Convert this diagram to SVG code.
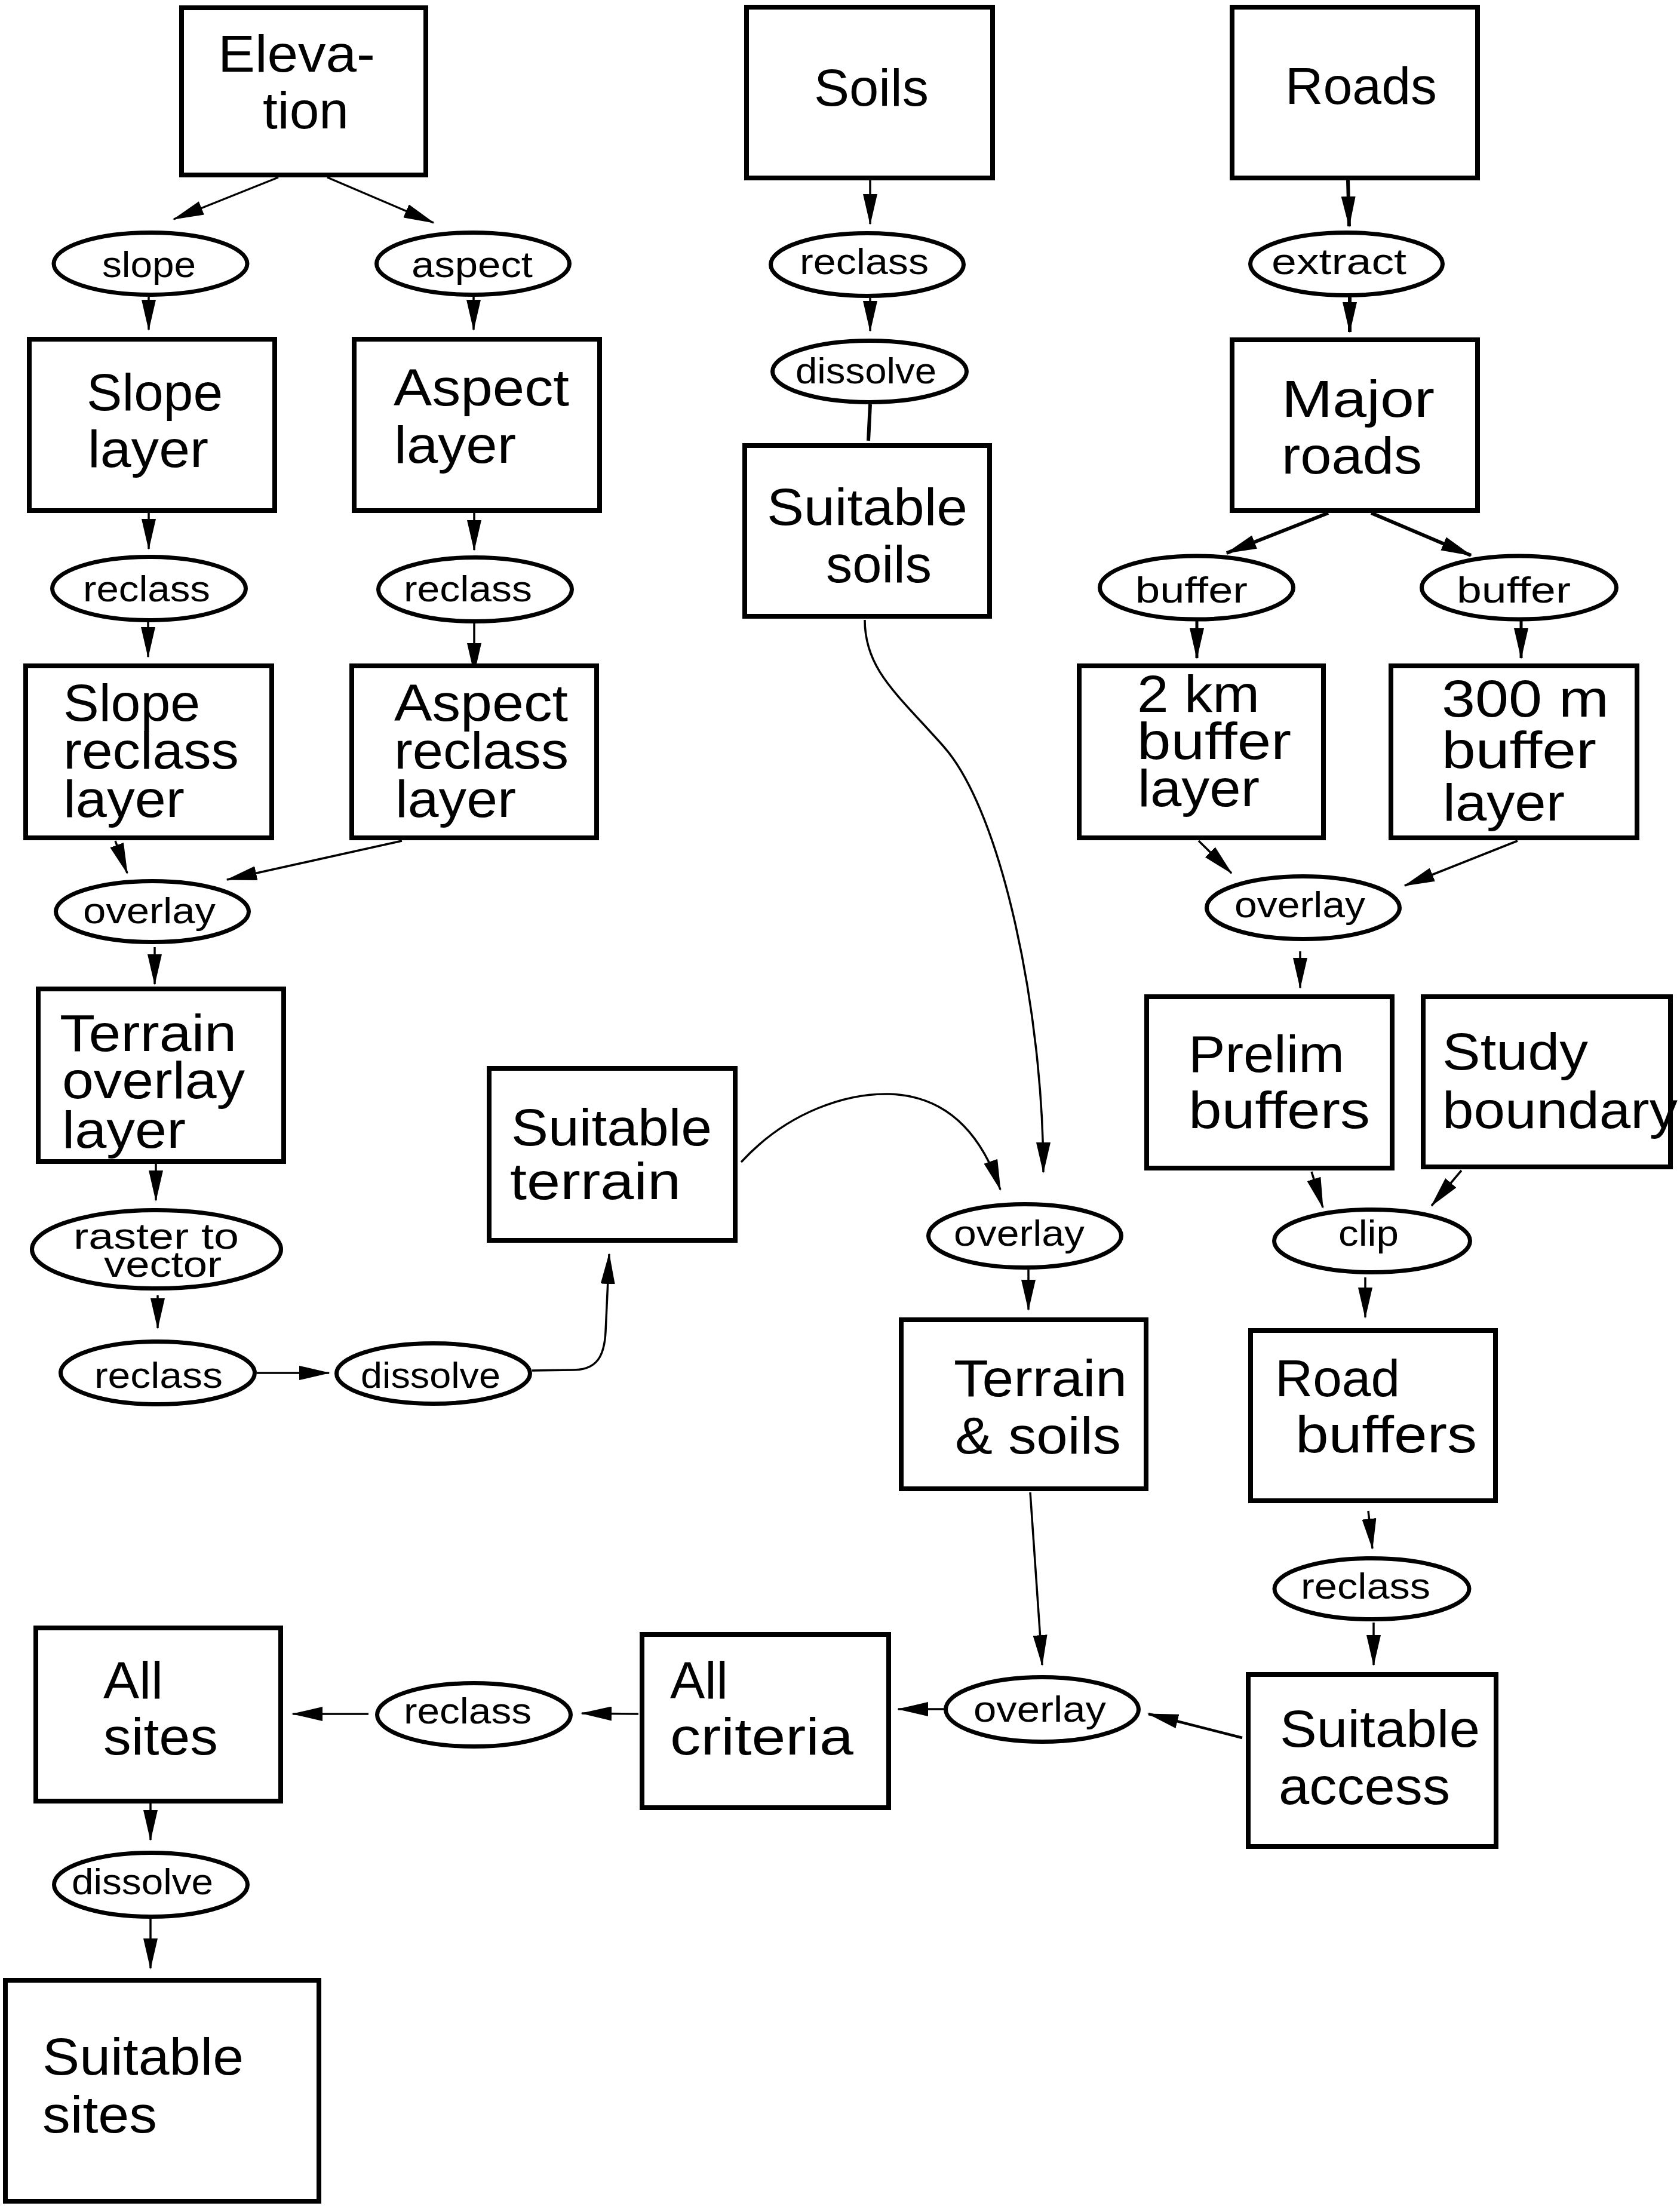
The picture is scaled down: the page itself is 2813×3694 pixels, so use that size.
<svg xmlns="http://www.w3.org/2000/svg" width="2813" height="3694" viewBox="0 0 2813 3694">
<style>
.box{fill:#fff;stroke:#000;stroke-width:8}
.op{fill:#fff;stroke:#000;stroke-width:7}
.t{font-family:"Liberation Sans",Arial,sans-serif;font-size:88px;fill:#000}
.s{font-family:"Liberation Sans",Arial,sans-serif;font-size:62px;fill:#000}
.c{stroke:#000;stroke-width:3.5;fill:none;marker-end:url(#ah)}
.k{stroke-width:6}
.n{stroke:#000;stroke-width:6;fill:none}
</style>
<defs>
<marker id="ah" markerUnits="userSpaceOnUse" markerWidth="52" markerHeight="24" refX="50" refY="12" orient="auto">
<path d="M0,0 L52,12 L0,24 z" fill="#000"/>
</marker>
</defs>
<rect width="2813" height="3694" fill="#fff"/>
<g id="connectors">
<line class="c" x1="466" y1="297" x2="291" y2="367"/>
<line class="c" x1="548" y1="297" x2="726" y2="373"/>
<line class="c" x1="249" y1="497" x2="249" y2="552"/>
<line class="c" x1="793" y1="497" x2="793" y2="552"/>
<line class="c" x1="249" y1="859" x2="249" y2="919"/>
<line class="c" x1="794" y1="859" x2="794" y2="921"/>
<line class="c" x1="248" y1="1042" x2="248" y2="1100"/>
<line class="c" x1="794" y1="1044" x2="794" y2="1127"/>
<line class="c" x1="193" y1="1408" x2="213" y2="1462"/>
<line class="c" x1="673" y1="1408" x2="380" y2="1473"/>
<line class="c" x1="259" y1="1586" x2="259" y2="1648"/>
<line class="c" x1="261" y1="1949" x2="261" y2="2010"/>
<line class="c" x1="264" y1="2169" x2="264" y2="2224"/>
<line class="c" x1="430" y1="2299" x2="551" y2="2299"/>
<path class="c" d="M891,2295 L960,2294 C1000,2294 1012,2270 1014,2230 L1020,2100"/>
<line class="c" x1="1457" y1="302" x2="1457" y2="375"/>
<line class="c" x1="1457" y1="499" x2="1457" y2="554"/>
<line class="n" x1="1457" y1="677" x2="1454" y2="738"/>
<path class="c" d="M1448,1038 C1448,1120 1500,1160 1580,1250 C1679,1362 1747,1700 1747,1963"/>
<path class="c" d="M1241,1946 C1320,1860 1420,1830 1490,1832 C1580,1835 1640,1890 1675,1992"/>
<line class="c k" x1="2257" y1="302" x2="2259" y2="379"/>
<line class="c k" x1="2260" y1="498" x2="2260" y2="556"/>
<line class="c k" x1="2224" y1="859" x2="2054" y2="926"/>
<line class="c k" x1="2296" y1="859" x2="2463" y2="930"/>
<line class="c" x1="2004" y1="1040" x2="2004" y2="1102" style="stroke-width:5"/>
<line class="c" x1="2547" y1="1040" x2="2547" y2="1102" style="stroke-width:5"/>
<line class="c" x1="2007" y1="1408" x2="2062" y2="1462"/>
<line class="c" x1="2541" y1="1408" x2="2352" y2="1483"/>
<line class="c" x1="2177" y1="1593" x2="2177" y2="1654"/>
<line class="c" x1="2196" y1="1962" x2="2215" y2="2022"/>
<line class="c" x1="2447" y1="1960" x2="2397" y2="2019"/>
<line class="c" x1="2286" y1="2139" x2="2286" y2="2206"/>
<line class="c" x1="1722" y1="2126" x2="1722" y2="2193"/>
<line class="c" x1="1725" y1="2499" x2="1745" y2="2788"/>
<line class="c" x1="2291" y1="2530" x2="2298" y2="2593"/>
<line class="c" x1="2300" y1="2717" x2="2300" y2="2788"/>
<line class="c" x1="2080" y1="2910" x2="1923" y2="2870" style="stroke-width:4.5"/>
<line class="c" x1="1580" y1="2862" x2="1504" y2="2862"/>
<line class="c" x1="1069" y1="2870" x2="974" y2="2869"/>
<line class="c" x1="617" y1="2870" x2="490" y2="2870"/>
<line class="c" x1="252" y1="3020" x2="252" y2="3081"/>
<line class="c" x1="252" y1="3213" x2="252" y2="3296"/>
</g>
<g id="elevation"><rect class="box" x="304" y="13" width="409" height="280"/><text class="t" x="365" y="120" textLength="263" lengthAdjust="spacingAndGlyphs">Eleva-</text><text class="t" x="440" y="215" textLength="144" lengthAdjust="spacingAndGlyphs">tion</text></g>
<g id="soils"><rect class="box" x="1250" y="12" width="412" height="286"/><text class="t" x="1363" y="177" textLength="192" lengthAdjust="spacingAndGlyphs">Soils</text></g>
<g id="roads"><rect class="box" x="2063" y="12" width="411" height="286"/><text class="t" x="2152" y="174" textLength="254" lengthAdjust="spacingAndGlyphs">Roads</text></g>
<g id="op-slope"><ellipse class="op" cx="252" cy="441.5" rx="162" ry="52"/><text class="s" x="171" y="464" textLength="157" lengthAdjust="spacingAndGlyphs">slope</text></g>
<g id="op-aspect"><ellipse class="op" cx="792" cy="441.5" rx="161.5" ry="52"/><text class="s" x="689" y="464" textLength="203" lengthAdjust="spacingAndGlyphs">aspect</text></g>
<g id="op-reclass-soils"><ellipse class="op" cx="1452" cy="443" rx="161.5" ry="52.5"/><text class="s" x="1339" y="459" textLength="216" lengthAdjust="spacingAndGlyphs">reclass</text></g>
<g id="op-dissolve-soils"><ellipse class="op" cx="1456" cy="622" rx="162.5" ry="51.5"/><text class="s" x="1332" y="642" textLength="236" lengthAdjust="spacingAndGlyphs">dissolve</text></g>
<g id="op-extract"><ellipse class="op" cx="2254.5" cy="442" rx="161" ry="52.5"/><text class="s" x="2129" y="459" textLength="226" lengthAdjust="spacingAndGlyphs">extract</text></g>
<g id="slope-layer"><rect class="box" x="49" y="568" width="411" height="287"/><text class="t" x="145" y="687" textLength="228" lengthAdjust="spacingAndGlyphs">Slope</text><text class="t" x="147" y="782" textLength="202" lengthAdjust="spacingAndGlyphs">layer</text></g>
<g id="aspect-layer"><rect class="box" x="593" y="568" width="411" height="287"/><text class="t" x="659" y="679" textLength="294" lengthAdjust="spacingAndGlyphs">Aspect</text><text class="t" x="660" y="775" textLength="204" lengthAdjust="spacingAndGlyphs">layer</text></g>
<g id="suitable-soils"><rect class="box" x="1247" y="746" width="410" height="286"/><text class="t" x="1284" y="879" textLength="336" lengthAdjust="spacingAndGlyphs">Suitable</text><text class="t" x="1383" y="975" textLength="177" lengthAdjust="spacingAndGlyphs">soils</text></g>
<g id="major-roads"><rect class="box" x="2063" y="569" width="411" height="286"/><text class="t" x="2146" y="698" textLength="256" lengthAdjust="spacingAndGlyphs">Major</text><text class="t" x="2146" y="793" textLength="235" lengthAdjust="spacingAndGlyphs">roads</text></g>
<g id="op-reclass-slope"><ellipse class="op" cx="249.5" cy="985.5" rx="162" ry="53"/><text class="s" x="139" y="1007" textLength="213" lengthAdjust="spacingAndGlyphs">reclass</text></g>
<g id="op-reclass-aspect"><ellipse class="op" cx="795.5" cy="987" rx="162" ry="53.5"/><text class="s" x="676" y="1007" textLength="215" lengthAdjust="spacingAndGlyphs">reclass</text></g>
<g id="op-buffer-2km"><ellipse class="op" cx="2003.5" cy="984" rx="162" ry="53"/><text class="s" x="1901" y="1009" textLength="188" lengthAdjust="spacingAndGlyphs">buffer</text></g>
<g id="op-buffer-300m"><ellipse class="op" cx="2543.5" cy="984" rx="163" ry="53"/><text class="s" x="2439" y="1009" textLength="191" lengthAdjust="spacingAndGlyphs">buffer</text></g>
<g id="slope-reclass-layer"><rect class="box" x="43" y="1115" width="412" height="288"/><text class="t" x="106" y="1207" textLength="229" lengthAdjust="spacingAndGlyphs">Slope</text><text class="t" x="106" y="1287" textLength="294" lengthAdjust="spacingAndGlyphs">reclass</text><text class="t" x="106" y="1368" textLength="203" lengthAdjust="spacingAndGlyphs">layer</text></g>
<g id="aspect-reclass-layer"><rect class="box" x="589" y="1115" width="410" height="288"/><text class="t" x="660" y="1207" textLength="291" lengthAdjust="spacingAndGlyphs">Aspect</text><text class="t" x="660" y="1287" textLength="292" lengthAdjust="spacingAndGlyphs">reclass</text><text class="t" x="662" y="1368" textLength="202" lengthAdjust="spacingAndGlyphs">layer</text></g>
<g id="buffer-2km-layer"><rect class="box" x="1807" y="1115" width="409" height="288"/><text class="t" x="1904" y="1192" textLength="205" lengthAdjust="spacingAndGlyphs">2 km</text><text class="t" x="1904" y="1271" textLength="258" lengthAdjust="spacingAndGlyphs">buffer</text><text class="t" x="1905" y="1350" textLength="204" lengthAdjust="spacingAndGlyphs">layer</text></g>
<g id="buffer-300m-layer"><rect class="box" x="2329" y="1115" width="412" height="288"/><text class="t" x="2414" y="1200" textLength="280" lengthAdjust="spacingAndGlyphs">300 m</text><text class="t" x="2414" y="1286" textLength="259" lengthAdjust="spacingAndGlyphs">buffer</text><text class="t" x="2416" y="1374" textLength="204" lengthAdjust="spacingAndGlyphs">layer</text></g>
<g id="op-overlay-terrain"><ellipse class="op" cx="255" cy="1526.5" rx="161.5" ry="51"/><text class="s" x="139" y="1546" textLength="222" lengthAdjust="spacingAndGlyphs">overlay</text></g>
<g id="op-overlay-buffers"><ellipse class="op" cx="2182" cy="1520" rx="161.5" ry="52.5"/><text class="s" x="2067" y="1536" textLength="219" lengthAdjust="spacingAndGlyphs">overlay</text></g>
<g id="terrain-overlay-layer"><rect class="box" x="64" y="1656" width="411" height="289"/><text class="t" x="100" y="1760" textLength="296" lengthAdjust="spacingAndGlyphs">Terrain</text><text class="t" x="104" y="1839" textLength="306" lengthAdjust="spacingAndGlyphs">overlay</text><text class="t" x="104" y="1922" textLength="207" lengthAdjust="spacingAndGlyphs">layer</text></g>
<g id="suitable-terrain"><rect class="box" x="819" y="1789" width="412" height="288"/><text class="t" x="856" y="1918" textLength="336" lengthAdjust="spacingAndGlyphs">Suitable</text><text class="t" x="854" y="2008" textLength="286" lengthAdjust="spacingAndGlyphs">terrain</text></g>
<g id="prelim-buffers"><rect class="box" x="1920" y="1669" width="411" height="287"/><text class="t" x="1990" y="1795" textLength="261" lengthAdjust="spacingAndGlyphs">Prelim</text><text class="t" x="1990" y="1889" textLength="304" lengthAdjust="spacingAndGlyphs">buffers</text></g>
<g id="study-boundary"><rect class="box" x="2383" y="1669" width="414" height="285"/><text class="t" x="2415" y="1791" textLength="244" lengthAdjust="spacingAndGlyphs">Study</text><text class="t" x="2415" y="1889" textLength="394" lengthAdjust="spacingAndGlyphs">boundary</text></g>
<g id="op-raster-to-vector"><ellipse class="op" cx="262" cy="2092" rx="208.5" ry="65.5"/><text class="s" x="123" y="2091" textLength="277" lengthAdjust="spacingAndGlyphs">raster to</text><text class="s" x="174" y="2138" textLength="197" lengthAdjust="spacingAndGlyphs">vector</text></g>
<g id="op-overlay-soils"><ellipse class="op" cx="1716" cy="2069.5" rx="161.5" ry="53"/><text class="s" x="1597" y="2086" textLength="219" lengthAdjust="spacingAndGlyphs">overlay</text></g>
<g id="op-clip"><ellipse class="op" cx="2297.5" cy="2078" rx="164" ry="52.5"/><text class="s" x="2241" y="2086" textLength="101" lengthAdjust="spacingAndGlyphs">clip</text></g>
<g id="op-reclass-vector"><ellipse class="op" cx="264" cy="2299" rx="162.5" ry="52.5"/><text class="s" x="158" y="2324" textLength="215" lengthAdjust="spacingAndGlyphs">reclass</text></g>
<g id="op-dissolve-vector"><ellipse class="op" cx="725.5" cy="2300" rx="162" ry="50.5"/><text class="s" x="604" y="2324" textLength="234" lengthAdjust="spacingAndGlyphs">dissolve</text></g>
<g id="terrain-soils"><rect class="box" x="1509" y="2210" width="410" height="283"/><text class="t" x="1597" y="2338" textLength="290" lengthAdjust="spacingAndGlyphs">Terrain</text><text class="t" x="1599" y="2434" textLength="278" lengthAdjust="spacingAndGlyphs">&amp; soils</text></g>
<g id="road-buffers"><rect class="box" x="2094" y="2228" width="410" height="285"/><text class="t" x="2135" y="2338" textLength="209" lengthAdjust="spacingAndGlyphs">Road</text><text class="t" x="2169" y="2432" textLength="304" lengthAdjust="spacingAndGlyphs">buffers</text></g>
<g id="op-reclass-roads"><ellipse class="op" cx="2297" cy="2660.5" rx="163" ry="51"/><text class="s" x="2178" y="2677" textLength="217" lengthAdjust="spacingAndGlyphs">reclass</text></g>
<g id="suitable-access"><rect class="box" x="2090" y="2804" width="415" height="288"/><text class="t" x="2143" y="2925" textLength="335" lengthAdjust="spacingAndGlyphs">Suitable</text><text class="t" x="2141" y="3021" textLength="287" lengthAdjust="spacingAndGlyphs">access</text></g>
<g id="op-overlay-all"><ellipse class="op" cx="1745" cy="2862.5" rx="161.5" ry="54"/><text class="s" x="1630" y="2883" textLength="222" lengthAdjust="spacingAndGlyphs">overlay</text></g>
<g id="all-criteria"><rect class="box" x="1075" y="2737" width="413" height="290"/><text class="t" x="1122" y="2844" textLength="97" lengthAdjust="spacingAndGlyphs">All</text><text class="t" x="1122" y="2938" textLength="307" lengthAdjust="spacingAndGlyphs">criteria</text></g>
<g id="op-reclass-all"><ellipse class="op" cx="793.5" cy="2871.5" rx="162" ry="53"/><text class="s" x="676" y="2886" textLength="214" lengthAdjust="spacingAndGlyphs">reclass</text></g>
<g id="all-sites"><rect class="box" x="60" y="2726" width="410" height="290"/><text class="t" x="173" y="2844" textLength="100" lengthAdjust="spacingAndGlyphs">All</text><text class="t" x="173" y="2938" textLength="192" lengthAdjust="spacingAndGlyphs">sites</text></g>
<g id="op-dissolve-sites"><ellipse class="op" cx="252.5" cy="3156" rx="162" ry="53.5"/><text class="s" x="120" y="3172" textLength="237" lengthAdjust="spacingAndGlyphs">dissolve</text></g>
<g id="suitable-sites"><rect class="box" x="9" y="3316" width="525" height="370"/><text class="t" x="71" y="3474" textLength="337" lengthAdjust="spacingAndGlyphs">Suitable</text><text class="t" x="71" y="3571" textLength="192" lengthAdjust="spacingAndGlyphs">sites</text></g>
</svg>
